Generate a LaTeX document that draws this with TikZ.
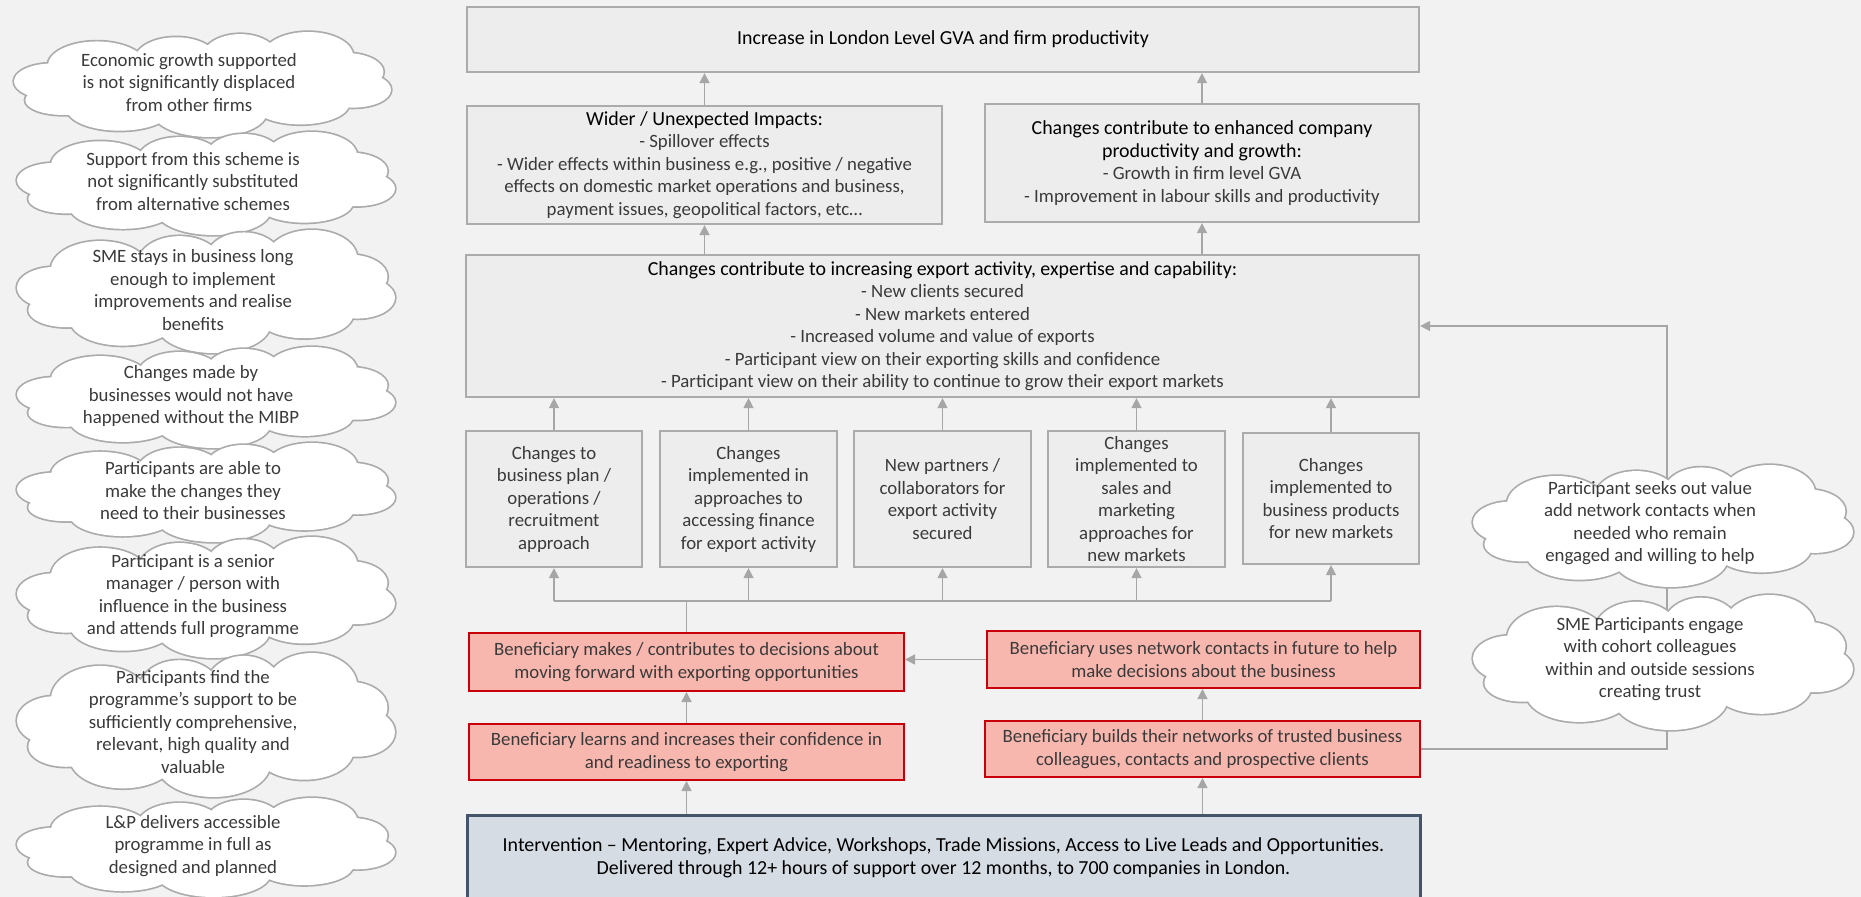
\documentclass[tikz,border=0pt]{standalone}
\usepackage{fontspec}
\setmainfont{Carlito}
\usetikzlibrary{arrows.meta}
\definecolor{bg}{HTML}{F2F2F2}
\definecolor{boxfill}{HTML}{EDEDED}
\definecolor{boxline}{HTML}{ABABAB}
\definecolor{redfill}{HTML}{F7B7AE}
\definecolor{redline}{HTML}{C8000A}
\definecolor{intfill}{HTML}{D6DCE4}
\definecolor{intline}{HTML}{44546A}
\definecolor{arr}{HTML}{A6A6A6}
\definecolor{txt}{HTML}{3A3A3A}
\newcommand{\hd}[1]{{\fontsize{19.9}{22.5}\selectfont\textcolor{black}{#1}}}
% union of ellipses forming a cloud in a unit box centred at the origin
\newcommand{\cloudbody}[1]{\path[#1]
 (-0.40,-0.03) ellipse [x radius=0.10, y radius=0.17]
 (-0.28,-0.18) ellipse [x radius=0.13, y radius=0.23]
 (-0.07,-0.23) ellipse [x radius=0.11, y radius=0.22]
 (0.10,-0.26) ellipse [x radius=0.10, y radius=0.22]
 (0.28,-0.27) ellipse [x radius=0.12, y radius=0.23]
 (0.38,-0.12) ellipse [x radius=0.10, y radius=0.18]
 (0.40,0.05) ellipse [x radius=0.10, y radius=0.17]
 (0.26,0.18) ellipse [x radius=0.13, y radius=0.20]
 (0.02,0.27) ellipse [x radius=0.15, y radius=0.23]
 (-0.22,0.23) ellipse [x radius=0.14, y radius=0.21]
 (-0.37,0.15) ellipse [x radius=0.10, y radius=0.14]
 (0,0) ellipse [x radius=0.40, y radius=0.32];}
\newcommand{\cloudat}[4]{\begin{scope}[shift={(#1,#2)}, xscale=#3, yscale=#4]
 \cloudbody{draw=boxline, line width=3.4pt}
 \cloudbody{fill=white}
 \end{scope}}
\begin{document}
\begin{tikzpicture}[x=1pt,y=-1pt,
  every node/.style={font=\fontsize{18.8}{22.5}\selectfont, align=center, inner sep=0pt},
  gbox/.style={draw=boxline, line width=2.2pt, fill=boxfill, text=txt},
  rbox/.style={draw=redline, line width=2pt, fill=redfill, text=txt},
  ibox/.style={draw=intline, line width=3pt, fill=intfill, text=black, font=\fontsize{19.9}{22.5}\selectfont},
  ctext/.style={text=txt},
  ar/.style={draw=arr, line width=1.4pt, -{Triangle[length=10pt,width=10pt]}},
  ln/.style={draw=arr, line width=1.4pt}]
\useasboundingbox (0,0) rectangle (1861,897);
\clip (0,0) rectangle (1861,897);
\fill[bg] (0,0) rectangle (1861,897);

% top levels
\node[gbox, minimum width=952, minimum height=65] (top) at (943,39.5) {\hd{Increase in London Level GVA and firm productivity}};
\node[gbox, minimum width=475, minimum height=118] (wider) at (704.5,165) {\hd{Wider / Unexpected Impacts:}\\- Spillover effects\\- Wider effects within business e.g., positive / negative\\effects on domestic market operations and business,\\payment issues, geopolitical factors, etc…};
\node[gbox, minimum width=434, minimum height=118] (enh) at (1202,163) {\hd{Changes contribute to enhanced company}\\\hd{productivity and growth:}\\- Growth in firm level GVA\\- Improvement in labour skills and productivity};
\node[gbox, minimum width=953, minimum height=142] (export) at (942.5,326) {\hd{Changes contribute to increasing export activity, expertise and capability:}\\- New clients secured\\- New markets entered\\- Increased volume and value of exports\\- Participant view on their exporting skills and confidence\\- Participant view on their ability to continue to grow their export markets};

% five boxes
\node[gbox, minimum width=176, minimum height=136] (b1) at (554,499) {Changes to\\business plan /\\operations /\\recruitment\\approach};
\node[gbox, minimum width=177, minimum height=136] (b2) at (748.5,499) {Changes\\implemented in\\approaches to\\accessing finance\\for export activity};
\node[gbox, minimum width=177, minimum height=136] (b3) at (942.5,499) {New partners /\\collaborators for\\export activity\\secured};
\node[gbox, minimum width=177, minimum height=136] (b4) at (1136.5,499) {Changes\\implemented to\\sales and\\marketing\\approaches for\\new markets};
\node[gbox, minimum width=176, minimum height=131] (b5) at (1331,498.5) {Changes\\implemented to\\business products\\for new markets};

% red boxes
\node[rbox, minimum width=435, minimum height=58] (red1) at (686.5,662) {Beneficiary makes / contributes to decisions about\\moving forward with exporting opportunities};
\node[rbox, minimum width=435, minimum height=56] (red2) at (686.5,752) {Beneficiary learns and increases their confidence in\\and readiness to exporting};
\node[rbox, minimum width=433, minimum height=57] (red3) at (1203.5,659.5) {Beneficiary uses network contacts in future to help\\make decisions about the business};
\node[rbox, minimum width=435, minimum height=56] (red4) at (1202.5,749) {Beneficiary builds their networks of trusted business\\colleagues, contacts and prospective clients};

% intervention
\node[ibox, minimum width=953, minimum height=86] (interv) at (943.5,858) {Intervention – Mentoring, Expert Advice, Workshops, Trade Missions, Access to Live Leads and Opportunities.\\Delivered through 12+ hours of support over 12 months, to 700 companies in London.};

% connectors
\draw[ar] (wider.north) -- (wider.north |- top.south);
\draw[ar] (enh.north) -- (enh.north |- top.south);
\draw[ar] (export.north -| wider) -- (wider.south);
\draw[ar] (export.north -| enh) -- (enh.south);
\foreach \b in {b1,b2,b3,b4,b5} {\draw[ar] (\b.north) -- (\b.north |- export.south);}
\coordinate (bus) at (687,601);
\draw[ln] (red1.north) -- (red1.north |- bus);
\draw[ln] (b1 |- bus) -- (b5 |- bus);
\foreach \b in {b1,b2,b3,b4,b5} {\draw[ar] (\b |- bus) -- (\b.south);}
\draw[ar] (red3.west) -- (red3.west -| red1.east);
\draw[ar] (red2.north) -- (red1.south);
\draw[ar] (red4.north) -- (red4.north |- red3.south);
\draw[ar] (interv.north -| red2) -- (red2.south);
\draw[ar] (interv.north -| red4) -- (red4.south);
\coordinate (lp) at (1667,0);
\draw[ar] (red4.east) -- (red4.east -| lp) -- (export.east -| lp) -- (export.east);

% clouds
\cloudat{1663}{526}{380}{122}
\cloudat{1663}{662.5}{380}{135}
\cloudat{202.5}{84.5}{377}{105}
\cloudat{206}{183.5}{378}{103}
\cloudat{206}{291.5}{378}{123}
\cloudat{206}{397.5}{378}{101}
\cloudat{206}{492.5}{378}{99}
\cloudat{206}{597.5}{378}{121}
\cloudat{206}{725}{378}{144}
\cloudat{206}{847.5}{378}{99}

% cloud texts
\node[ctext] (tr1) at (1650,523) {Participant seeks out value\\add network contacts when\\needed who remain\\engaged and willing to help};
\node[ctext] (tr2) at (1650,659) {SME Participants engage\\with cohort colleagues\\within and outside sessions\\creating trust};
\node[ctext] (t1) at (189,82.5) {Economic growth supported\\is not significantly displaced\\from other firms};
\node[ctext] (t2) at (193,181.5) {Support from this scheme is\\not significantly substituted\\from alternative schemes};
\node[ctext] (t3) at (193,290) {SME stays in business long\\enough to implement\\improvements and realise\\benefits};
\node[ctext] (t4) at (191,396) {Changes made by\\businesses would not have\\happened without the MIBP};
\node[ctext] (t5) at (193,491) {Participants are able to\\make the changes they\\need to their businesses};
\node[ctext] (t6) at (193,596) {Participant is a senior\\manager / person with\\influence in the business\\and attends full programme};
\node[ctext] (t7) at (193,722) {Participants find the\\programme’s support to be\\sufficiently comprehensive,\\relevant, high quality and\\valuable};
\node[ctext] (t8) at (193,846) {L\&P delivers accessible\\programme in full as\\designed and planned};
\end{tikzpicture}
\end{document}
